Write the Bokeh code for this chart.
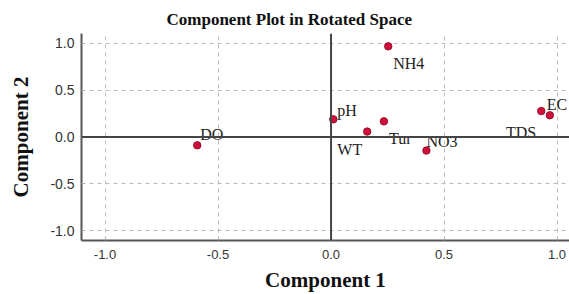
from bokeh.plotting import figure
from bokeh.models import ColumnDataSource, FixedTicker, NumeralTickFormatter, Span, Range1d
from bokeh.core.properties import value
from bokeh.embed import file_html
from bokeh.resources import INLINE

# ---- data (component loadings) ----
variables = ["DO", "NH4", "pH", "WT", "Tur", "NO3", "TDS", "EC"]
component1 = [-0.592, 0.253, 0.010, 0.160, 0.234, 0.422, 0.930, 0.968]
component2 = [-0.089, 0.968, 0.189, 0.058, 0.167, -0.145, 0.277, 0.232]
tick_values = [-1.0, -0.5, 0.0, 0.5, 1.0]

# ---- label placement (screen pixels, style only) ----
label_dx = [3, 5, 4, -5, 5, 0, -5, -3]
label_dy = [-11, 17, -9, 18, 17, -9, 21, -11]
label_align = ["left", "left", "left", "right", "left", "left", "right", "left"]

source = ColumnDataSource(dict(x=component1, y=component2, name=variables,
                               dx=label_dx, dy=label_dy, align=label_align))

p = figure(width=569, height=294,
           x_range=Range1d(-1.104, 1.055), y_range=Range1d(-1.105, 1.105),
           output_backend="svg", toolbar_location=None,
           title="Component Plot in Rotated Space",
           min_border_left=81, min_border_right=0, min_border_top=33, min_border_bottom=54)

p.title.text_font = "Liberation Serif"
p.title.text_font_size = "17px"
p.title.text_font_style = "bold"
p.title.text_color = "#111111"
p.title.align = "left"
p.title.offset = 85
p.title.standoff = 10

p.outline_line_color = None
p.background_fill_color = "white"
p.border_fill_color = "white"

for ax in (p.xaxis[0], p.yaxis[0]):
    ax.ticker = FixedTicker(ticks=tick_values)
    ax.formatter = NumeralTickFormatter(format="0.0")
    ax.axis_line_color = "#555555"
    ax.axis_line_width = 2
    ax.major_tick_out = 0
    ax.major_tick_in = 3
    ax.major_tick_line_color = "#aaaaaa"
    ax.minor_tick_line_color = None
    ax.major_label_text_font = "Liberation Sans"
    ax.major_label_text_color = "#333333"
    ax.axis_label_text_font = "Liberation Serif"
    ax.axis_label_text_font_style = "bold"
    ax.axis_label_text_font_size = "21px"
    ax.axis_label_text_color = "#111111"

p.xaxis.axis_label = "Component 1"
p.yaxis.axis_label = "Component 2"
p.xaxis.major_label_text_font_size = "13px"
p.yaxis.major_label_text_font_size = "14px"
p.xaxis.major_label_standoff = 9
p.yaxis.major_label_standoff = 7
p.xaxis.axis_label_standoff = 6
p.yaxis.axis_label_standoff = 14

for g in (p.xgrid[0], p.ygrid[0]):
    g.ticker = FixedTicker(ticks=tick_values)
    g.grid_line_color = "#bbbbbb"
    g.grid_line_dash = "4 4"
    g.grid_line_width = 1

p.add_layout(Span(location=0, dimension="height", line_color="#444444", line_width=2))
p.add_layout(Span(location=0, dimension="width", line_color="#444444", line_width=2))

p.scatter("x", "y", source=source, size=7.5, fill_color="#d0103a",
          line_color="#8a0022", line_width=0.8)

p.text("x", "y", text="name", source=source, x_offset="dx", y_offset="dy",
       text_align="align", text_baseline="alphabetic",
       text_font=value("Liberation Serif"), text_font_size="16px",
       text_color="#222222")

open("out.html", "w").write(file_html(p, INLINE))
